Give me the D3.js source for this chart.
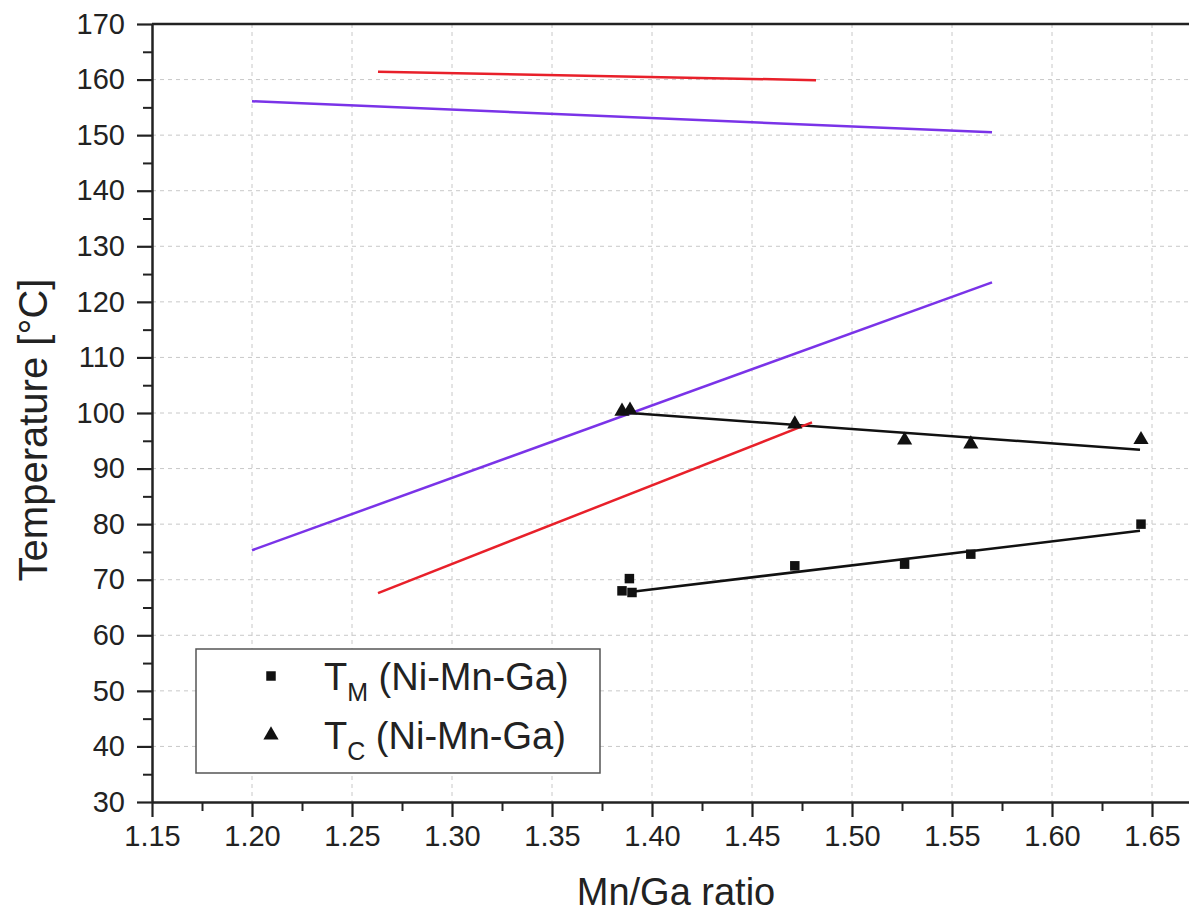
<!DOCTYPE html>
<meta charset="utf-8">
<style>
    body { margin: 0; background: #fff; }
    text { font-family: "Liberation Sans", Arial, sans-serif; fill: #222; }
    .grid line { stroke: #c8c8c8; stroke-width: 1; stroke-dasharray: 4,4; }
    .axis path, .axis line { stroke: #222; }
</style>
<svg width="1189" height="917"></svg>
<script src="https://d3js.org/d3.v7.min.js"></script>
<script>

    // T_M (Ni-Mn-Ga) measured points
    var tmX = [1.385, 1.3887, 1.390, 1.4714, 1.5263, 1.5594, 1.6445];
    var tmY = [68.0, 70.2, 67.7, 72.5, 72.8, 74.6, 80.0];

    // T_C (Ni-Mn-Ga) measured points
    var tcX = [1.385, 1.389, 1.4714, 1.5263, 1.5594, 1.6445];
    var tcY = [100.3, 100.5, 98.0, 95.1, 94.4, 95.2];

    // fitted / reference lines: [x0, y0, x1, y1]
    var lines = [
        { name: "tmFit", color: "#111", pts: [1.389, 67.8, 1.644, 78.8] },
        { name: "tcFit", color: "#111", pts: [1.389, 100.0, 1.644, 93.4] },
        { name: "purpleHigh", color: "#7a33e8", pts: [1.200, 156.1, 1.570, 150.5] },
        { name: "purpleLow", color: "#7a33e8", pts: [1.200, 75.3, 1.570, 123.5] },
        { name: "redHigh", color: "#e8202a", pts: [1.263, 161.4, 1.482, 159.9] },
        { name: "redLow", color: "#e8202a", pts: [1.263, 67.6, 1.480, 98.3] }
    ];

    var xMajor = [1.15, 1.20, 1.25, 1.30, 1.35, 1.40, 1.45, 1.50, 1.55, 1.60, 1.65];
    var yMajor = [30, 40, 50, 60, 70, 80, 90, 100, 110, 120, 130, 140, 150, 160, 170];

    var svg = d3.select("svg"),
        mLeft = 152, mRight = 1192, mTop = 24, mBottom = 802;

    var x = d3.scaleLinear().domain([1.15, 1.67]).range([mLeft, mRight]);
    var y = d3.scaleLinear().domain([30, 170]).range([mBottom, mTop]);

    // grid
    var grid = svg.append("g").attr("class", "grid");
    grid.selectAll("line.v")
        .data(xMajor.slice(1))
        .enter().append("line")
        .attr("x1", d => x(d)).attr("x2", d => x(d))
        .attr("y1", mTop).attr("y2", mBottom);
    grid.selectAll("line.h")
        .data(yMajor.slice(1, -1))
        .enter().append("line")
        .attr("x1", mLeft).attr("x2", mRight)
        .attr("y1", d => y(d)).attr("y2", d => y(d));

    // minor ticks, halfway between the major ones
    var xMinor = xMajor.map(d => d + 0.025);
    var yMinor = yMajor.slice(0, -1).map(d => d + 5);

    svg.append("g")
        .attr("class", "axis")
        .attr("transform", "translate(0," + mBottom + ")")
        .call(d3.axisBottom(x).tickValues(xMinor).tickSize(9).tickFormat(""))
        .call(g => g.select(".domain").remove())
        .selectAll("line").attr("stroke-width", 2);

    svg.append("g")
        .attr("class", "axis")
        .attr("transform", "translate(" + mLeft + ",0)")
        .call(d3.axisLeft(y).tickValues(yMinor).tickSize(9).tickFormat(""))
        .call(g => g.select(".domain").remove())
        .selectAll("line").attr("stroke-width", 2);

    // major axes
    var xAxis = svg.append("g")
        .attr("class", "axis")
        .attr("transform", "translate(0," + mBottom + ")")
        .call(d3.axisBottom(x).tickValues(xMajor).tickSize(15).tickSizeOuter(0)
            .tickPadding(8).tickFormat(d3.format(".2f")));
    xAxis.select(".domain").attr("stroke-width", 2.5);
    xAxis.selectAll("line").attr("stroke-width", 2.2);
    xAxis.selectAll("text").attr("font-size", 29).attr("fill", "#222");

    var yAxis = svg.append("g")
        .attr("class", "axis")
        .attr("transform", "translate(" + mLeft + ",0)")
        .call(d3.axisLeft(y).tickValues(yMajor).tickSize(15).tickSizeOuter(0)
            .tickPadding(12));
    yAxis.select(".domain").attr("stroke-width", 2.5);
    yAxis.selectAll("line").attr("stroke-width", 2.2);
    yAxis.selectAll("text").attr("font-size", 29).attr("fill", "#222");

    // top frame line
    svg.append("line")
        .attr("x1", mLeft).attr("x2", mRight)
        .attr("y1", mTop).attr("y2", mTop)
        .attr("stroke", "#222").attr("stroke-width", 2.5);

    // lines
    svg.append("g").selectAll("line")
        .data(lines)
        .enter().append("line")
        .attr("x1", d => x(d.pts[0])).attr("y1", d => y(d.pts[1]))
        .attr("x2", d => x(d.pts[2])).attr("y2", d => y(d.pts[3]))
        .attr("stroke", d => d.color)
        .attr("stroke-width", 2.5);

    // markers
    var sq = d3.symbol().type(d3.symbolSquare).size(90);
    var tri = d3.symbol().type(d3.symbolTriangle).size(100);

    svg.append("g").selectAll("path")
        .data(tmX.map((d, i) => [d, tmY[i]]))
        .enter().append("path")
        .attr("d", sq)
        .attr("fill", "#111")
        .attr("transform", d => "translate(" + x(d[0]) + "," + y(d[1]) + ")");

    svg.append("g").selectAll("path")
        .data(tcX.map((d, i) => [d, tcY[i]]))
        .enter().append("path")
        .attr("d", tri)
        .attr("fill", "#111")
        .attr("transform", d => "translate(" + x(d[0]) + "," + y(d[1]) + ")");

    // legend
    var legend = svg.append("g");
    legend.append("rect")
        .attr("x", 196).attr("y", 649)
        .attr("width", 404).attr("height", 124)
        .attr("fill", "#fff")
        .attr("stroke", "#555").attr("stroke-width", 1.5);

    var items = [
        { sym: sq, sub: "M", y: 676 },
        { sym: tri, sub: "C", y: 735 }
    ];
    var item = legend.selectAll("g.item")
        .data(items)
        .enter().append("g")
        .attr("transform", d => "translate(0," + d.y + ")");
    item.append("path")
        .attr("d", d => d.sym())
        .attr("fill", "#111")
        .attr("transform", "translate(271,0)");
    var label = item.append("text")
        .attr("x", 324).attr("y", 14)
        .attr("font-size", 38);
    label.append("tspan").text("T");
    label.append("tspan")
        .attr("font-size", 25).attr("dy", 11)
        .text(d => d.sub);
    label.append("tspan")
        .attr("dy", -11)
        .text(" (Ni-Mn-Ga)");

    // axis titles
    svg.append("text")
        .attr("x", 676)
        .attr("y", 905)
        .attr("text-anchor", "middle")
        .attr("font-size", 38)
        .text("Mn/Ga ratio");

    svg.append("text")
        .attr("transform", "translate(47,430) rotate(-90)")
        .attr("text-anchor", "middle")
        .attr("font-size", 40)
        .text("Temperature [°C]");

</script>
